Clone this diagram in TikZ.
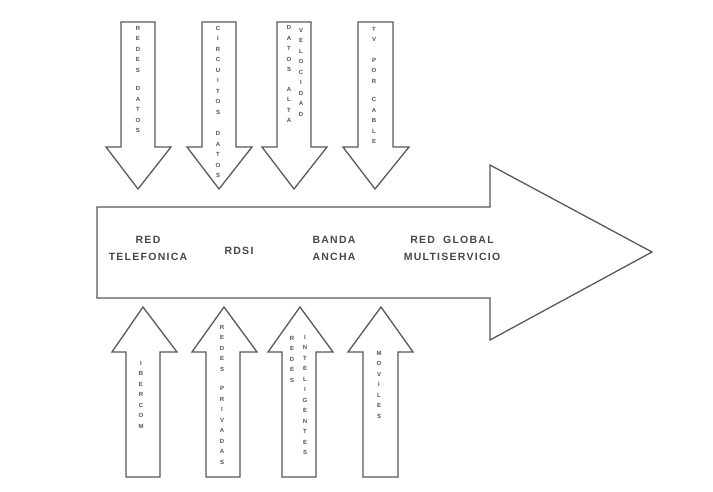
\documentclass[tikz,border=0pt]{standalone}
\usepackage{fontspec}
\setmainfont{Liberation Sans}
\begin{document}
\begin{tikzpicture}[x=1pt,y=-1pt]
\tikzset{
 arr/.style={draw=black!65, line width=1.3pt, line join=miter, fill=white},
 lbl/.style={font=\fontsize{10.5}{17}\selectfont\bfseries\addfontfeatures{LetterSpace=12}, text=black!72, align=center, inner sep=0},
 vt/.style={font=\fontsize{6}{10.5}\selectfont\bfseries, text=black!68, align=center, inner sep=0, anchor=north},
}
\useasboundingbox (0,0) rectangle (713,491);
\fill[white] (0,0) rectangle (713,491);
% main arrow
\draw[arr] (97,207) -- (490,207) -- (490,165) -- (652,252) -- (490,340) -- (490,298) -- (97,298) -- cycle;
% top arrows
\draw[arr] (121,22) -- (155,22) -- (155,147) -- (171,147) -- (138,189) -- (106,147) -- (121,147) -- cycle;
\draw[arr] (202,22) -- (236,22) -- (236,147) -- (252,147) -- (219,189) -- (187,147) -- (202,147) -- cycle;
\draw[arr] (277,22) -- (311,22) -- (311,147) -- (327,147) -- (294,189) -- (262,147) -- (277,147) -- cycle;
\draw[arr] (358,22) -- (393,22) -- (393,147) -- (409,147) -- (375,189) -- (343,147) -- (358,147) -- cycle;
% bottom arrows
\draw[arr] (126,477) -- (160,477) -- (160,352) -- (177,352) -- (143,307) -- (112,352) -- (126,352) -- cycle;
\draw[arr] (206,477) -- (240,477) -- (240,352) -- (257,352) -- (224,307) -- (192,352) -- (206,352) -- cycle;
\draw[arr] (282,477) -- (316,477) -- (316,352) -- (333,352) -- (300,307) -- (268,352) -- (282,352) -- cycle;
\draw[arr] (363,477) -- (398,477) -- (398,352) -- (413,352) -- (381,307) -- (348,352) -- (363,352) -- cycle;
% main labels
\node[lbl] (red) at (148,248.5) {RED\\TELEFONICA};
\node[lbl] (rdsi) at (239,251) {RDSI};
\node[lbl] (banda) at (334,248.5) {BANDA\\ANCHA};
\node[lbl] (global) at (452,248.5) {RED\hspace{4pt} GLOBAL\\MULTISERVICIO};
% top vertical labels
\node[vt] (t1) at (138,26) {R\\E\\D\\E\\S\\[8pt]D\\A\\T\\O\\S};
\node[vt] (t2) at (218,26) {C\\I\\R\\C\\U\\I\\T\\O\\S\\[11pt]D\\A\\T\\O\\S};
\node[vt] (t3a) at (289,25.5) {D\\A\\T\\O\\S\\[9pt]A\\L\\T\\A};
\node[vt] (t3b) at (301,28) {V\\E\\L\\O\\C\\I\\D\\A\\D};
\node[vt] (t4) at (374,27) {T\\V\\[10pt]P\\O\\R\\[8pt]C\\A\\B\\L\\E};
% bottom vertical labels
\node[vt] (b1) at (141,361) {I\\B\\E\\R\\C\\O\\M};
\node[vt] (b2) at (222,325) {R\\E\\D\\E\\S\\[9pt]P\\R\\I\\V\\A\\D\\A\\S};
\node[vt] (b3a) at (292,336) {R\\E\\D\\E\\S};
\node[vt] (b3b) at (305,335) {I\\N\\T\\E\\L\\I\\G\\E\\N\\T\\E\\S};
\node[vt] (b4) at (379,351) {M\\O\\V\\I\\L\\E\\S};
\end{tikzpicture}
\end{document}
